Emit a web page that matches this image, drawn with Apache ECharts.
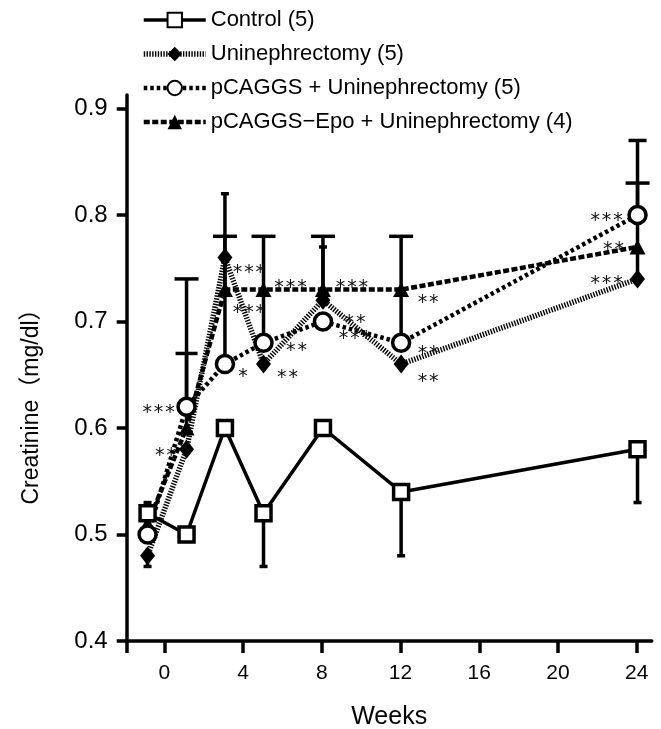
<!DOCTYPE html>
<html>
<head>
<meta charset="utf-8">
<script src="https://cdn.jsdelivr.net/npm/echarts@6/dist/echarts.min.js"></script>
<style>
html,body{margin:0;padding:0;background:#fff;}
#chart{width:661px;height:729px;}
</style>
</head>
<body>
<div id="chart"></div>
<script>
// ---------- data ----------
const weeks = [-0.85, 1.13, 3.08, 5.04, 8.06, 12.03, 24.04];
const xTickValues = [0, 4, 8, 12, 16, 20, 24];
const yTickValues = [0.4, 0.5, 0.6, 0.7, 0.8, 0.9];

const control        = [0.52, 0.50, 0.60, 0.52, 0.60, 0.54, 0.58];
const uninephrectomy = [0.48, 0.58, 0.76, 0.66, 0.72, 0.66, 0.74];
const pcaggs         = [0.50, 0.62, 0.66, 0.68, 0.70, 0.68, 0.80];
const pcaggsEpo      = [0.51, 0.60, 0.73, 0.73, 0.73, 0.73, 0.77];

const seriesNames = ['Control (5)', 'Uninephrectomy (5)', 'pCAGGS + Uninephrectomy (5)', 'pCAGGS\u2212Epo + Uninephrectomy (4)'];

// significance marks for each point
const starsUni    = ['', '**', '***', '**', '**', '**', '***'];
const starsPcaggs = ['', '***', '*', '**', '***', '**', '***'];
const starsEpo    = ['', '', '***', '***', '***', '**', '**'];

// error bars: x, mean, end of bar (cap is at the end)
const errX    = [-0.85, -0.85, 1.13, 1.13, 3.08, 3.08, 5.04, 5.04, 8.06, 8.06, 12.03, 12.03, 24.04, 24.04, 24.04];
const errFrom = [0.52, 0.48, 0.62, 0.60, 0.66, 0.73, 0.68, 0.52, 0.73, 0.72, 0.68, 0.54, 0.80, 0.74, 0.58];
const errTo   = [0.53, 0.47, 0.74, 0.67, 0.82, 0.78, 0.78, 0.47, 0.78, 0.77, 0.78, 0.48, 0.87, 0.83, 0.53];

// ---------- layout / style ----------
const capHalf = [4, 4, 12, 11, 4, 12, 12, 4, 12, 4, 12, 4, 9, 12, 4];
const offUni    = [null, [-21, 2], [24, 10], [24, 9], [32, 18], [27, 13], [-31, 0]];
const offPcaggs = [null, [-28, 1], [18, 8], [33, 3], [32, 13], [27, 6], [-31, 1]];
const offEpo    = [null, null, [24, 18], [27, -7], [29, -7], [27, 8], [-24, -2]];
const STAR_SHIFT = 5; // DejaVu asterisk sits high in the em box

const FONT = '"Liberation Sans", Arial, sans-serif';
const lineStyles = [
  { color: '#000', width: 3.5, type: 'solid' },
  { color: '#000', width: 5.5, type: [1.4, 1.4] },
  { color: '#000', width: 4.5, type: [3.5, 3] },
  { color: '#000', width: 4.5, type: [6, 2.5] }
];

function pts(vals, stars, offs) {
  return vals.map((v, i) => {
    const item = { value: [weeks[i], v] };
    if (stars && stars[i]) {
      item.label = {
        show: true, position: 'inside', formatter: stars[i].split('').join('\u200A'),
        offset: [offs[i][0], offs[i][1] + STAR_SHIFT],
        fontFamily: '"DejaVu Sans", sans-serif', fontSize: 19, color: '#111'
      };
    }
    return item;
  });
}

const errData = errX.map((x, i) => [x, errFrom[i], errTo[i], capHalf[i]]);

const chart = echarts.init(document.getElementById('chart'), null, { renderer: 'canvas' });
const option = {
  animation: false,
  backgroundColor: '#fff',
  textStyle: { fontFamily: FONT },
  legend: {
    orient: 'vertical',
    left: 136,
    top: 4,
    itemWidth: 62,
    itemHeight: 18,
    itemGap: 12,
    textStyle: { fontSize: 22, color: '#000', fontFamily: FONT },
    data: seriesNames.map((n, i) => ({ name: n, lineStyle: lineStyles[i] }))
  },
  grid: { left: 126.7, right: 9.3, top: 95, bottom: 88, containLabel: false, outerBoundsMode: 'none' },
  xAxis: {
    type: 'value', min: -1.91, max: 24.76,
    name: 'Weeks', nameLocation: 'middle', nameGap: 64,
    nameTextStyle: { fontSize: 25, color: '#000', fontFamily: FONT },
    axisLine: { onZero: false, lineStyle: { color: '#000', width: 3.5 } },
    axisTick: { show: true, length: 12, lineStyle: { color: '#000', width: 3.5 }, customValues: [-1.91].concat(xTickValues) },
    axisLabel: { customValues: xTickValues, margin: 22, fontSize: 21, color: '#000', fontFamily: FONT },
    splitLine: { show: false }
  },
  yAxis: {
    type: 'value', min: 0.4, max: 0.9127,
    name: 'Creatinine（mg/dl）', nameLocation: 'middle', nameGap: 84, nameRotate: 90,
    nameTextStyle: { fontSize: 23, color: '#000', fontFamily: '"Liberation Sans", "Noto Sans CJK JP", sans-serif', padding: [0, 66, 0, 0] },
    axisLine: { show: true, onZero: false, lineStyle: { color: '#000', width: 3.5 } },
    axisTick: { show: true, length: 10, lineStyle: { color: '#000', width: 3.5 }, customValues: yTickValues },
    axisLabel: { customValues: yTickValues, margin: 19, fontSize: 24, color: '#000', fontFamily: FONT, formatter: v => v.toFixed(1) },
    splitLine: { show: false }
  },
  series: [
    {
      type: 'custom', name: 'errbars', z: 1, silent: true,
      renderItem: function (params, api) {
        const x = api.value(0);
        const p0 = api.coord([x, api.value(1)]);
        const p1 = api.coord([x, api.value(2)]);
        const hw = api.value(3);
        const st = { stroke: '#000', lineWidth: 3.5 };
        return {
          type: 'group',
          children: [
            { type: 'line', shape: { x1: p0[0], y1: p0[1], x2: p1[0], y2: p1[1] }, style: st },
            { type: 'line', shape: { x1: p1[0] - hw, y1: p1[1], x2: p1[0] + hw, y2: p1[1] }, style: st }
          ]
        };
      },
      data: errData
    },
    {
      name: seriesNames[3], type: 'line', z: 3,
      data: pts(pcaggsEpo, starsEpo, offEpo),
      symbol: 'triangle', symbolSize: [16, 15],
      lineStyle: lineStyles[3],
      itemStyle: { color: '#000', borderColor: '#000', borderWidth: 0 }
    },
    {
      name: seriesNames[2], type: 'line', z: 4,
      data: pts(pcaggs, starsPcaggs, offPcaggs),
      symbol: 'circle', symbolSize: 17,
      lineStyle: lineStyles[2],
      itemStyle: { color: '#fff', borderColor: '#000', borderWidth: 3.5 }
    },
    {
      name: seriesNames[1], type: 'line', z: 3,
      data: pts(uninephrectomy, starsUni, offUni),
      symbol: 'diamond', symbolSize: [15, 19],
      lineStyle: lineStyles[1],
      itemStyle: { color: '#000', borderColor: '#000', borderWidth: 0 }
    },
    {
      name: seriesNames[0], type: 'line', z: 5,
      data: pts(control, null, null),
      symbol: 'rect', symbolSize: 15,
      lineStyle: lineStyles[0],
      itemStyle: { color: '#fff', borderColor: '#000', borderWidth: 3.5 }
    }
  ]
};
chart.setOption(option);
</script>
</body>
</html>
